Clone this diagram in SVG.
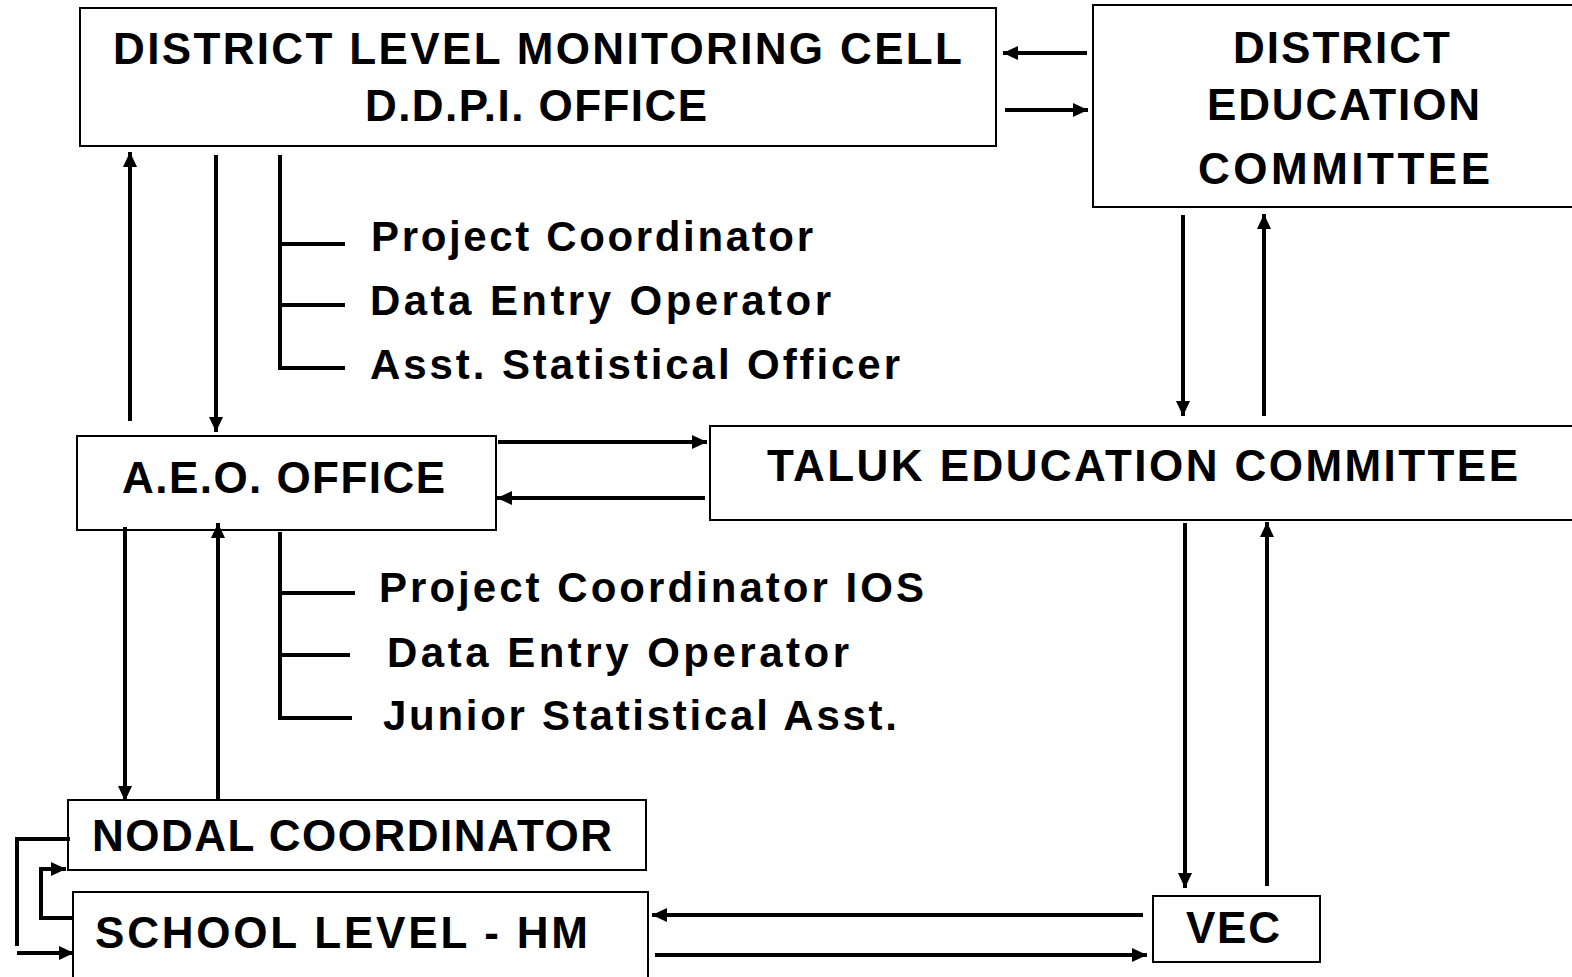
<svg xmlns="http://www.w3.org/2000/svg" width="1572" height="977" viewBox="0 0 1572 977">
  <defs>
    <marker id="ah" markerUnits="userSpaceOnUse" markerWidth="16" markerHeight="14" refX="15" refY="7" orient="auto">
      <path d="M0,0 L15,7 L0,14 Z" fill="#000"/>
    </marker>
    <style>
      .box { fill: #fff; stroke: #000; stroke-width: 2; }
      .title { font-family: "Liberation Sans", Arial, sans-serif; font-size: 44px; font-weight: bold; fill: #000; }
      .item { font-family: "Liberation Sans", Arial, sans-serif; font-size: 42px; font-weight: bold; fill: #000; }
      .arrow { fill: none; stroke: #000; stroke-width: 4; marker-end: url(#ah); }
      .line { fill: none; stroke: #000; stroke-width: 4; }
    </style>
  </defs>
  <rect width="1572" height="977" fill="#fff"/>

  <g id="district-monitoring-cell">
    <rect class="box" x="80" y="8" width="916" height="138"/>
    <text class="title" x="113" y="64" textLength="849" lengthAdjust="spacing">DISTRICT LEVEL MONITORING CELL</text>
    <text class="title" x="365" y="121" textLength="342" lengthAdjust="spacing">D.D.P.I. OFFICE</text>
  </g>

  <g id="district-education-committee">
    <rect class="box" x="1093" y="5" width="490" height="202"/>
    <text class="title" x="1233" y="63" textLength="217" lengthAdjust="spacing">DISTRICT</text>
    <text class="title" x="1207" y="120" textLength="273" lengthAdjust="spacing">EDUCATION</text>
    <text class="title" x="1198" y="184" textLength="292" lengthAdjust="spacing">COMMITTEE</text>
  </g>

  <g id="district-staff">
    <text class="item" x="371" y="251" textLength="442" lengthAdjust="spacing">Project Coordinator</text>
    <text class="item" x="370" y="315" textLength="461" lengthAdjust="spacing">Data Entry Operator</text>
    <text class="item" x="370" y="379" textLength="530" lengthAdjust="spacing">Asst. Statistical Officer</text>
  </g>

  <g id="aeo-office">
    <rect class="box" x="77" y="436" width="419" height="94"/>
    <text class="title" x="122" y="493" textLength="323" lengthAdjust="spacing">A.E.O. OFFICE</text>
  </g>

  <g id="taluk-education-committee">
    <rect class="box" x="710" y="426" width="873" height="94"/>
    <text class="title" x="767" y="481" textLength="751" lengthAdjust="spacing">TALUK EDUCATION COMMITTEE</text>
  </g>

  <g id="aeo-staff">
    <text class="item" x="379" y="602" textLength="545" lengthAdjust="spacing">Project Coordinator IOS</text>
    <text class="item" x="387" y="667" textLength="462" lengthAdjust="spacing">Data Entry Operator</text>
    <text class="item" x="383" y="730" textLength="514" lengthAdjust="spacing">Junior Statistical Asst.</text>
  </g>

  <g id="nodal-coordinator">
    <rect class="box" x="68" y="800" width="578" height="70"/>
    <text class="title" x="92" y="851" textLength="520" lengthAdjust="spacing">NODAL COORDINATOR</text>
  </g>

  <g id="school-level-hm">
    <rect class="box" x="73" y="892" width="575" height="90"/>
    <text class="title" x="95" y="948" textLength="493" lengthAdjust="spacing">SCHOOL LEVEL - HM</text>
  </g>

  <g id="vec">
    <rect class="box" x="1153" y="896" width="167" height="66"/>
    <text class="title" x="1186" y="943" textLength="94" lengthAdjust="spacing">VEC</text>
  </g>

  <g id="connectors">
    <!-- district cell <-> district education committee -->
    <line class="arrow" x1="1087" y1="53" x2="1003" y2="53"/>
    <line class="arrow" x1="1005" y1="110" x2="1088" y2="110"/>
    <!-- district cell <-> A.E.O. office -->
    <line class="arrow" x1="130" y1="421" x2="130" y2="152"/>
    <line class="arrow" x1="216" y1="155" x2="216" y2="432"/>
    <!-- district staff bracket -->
    <polyline class="line" points="280,155 280,368 345,368"/>
    <line class="line" x1="280" y1="244" x2="345" y2="244"/>
    <line class="line" x1="280" y1="305" x2="345" y2="305"/>
    <!-- district education committee <-> taluk committee -->
    <line class="arrow" x1="1183" y1="215" x2="1183" y2="416"/>
    <line class="arrow" x1="1264" y1="416" x2="1264" y2="214"/>
    <!-- A.E.O. office <-> taluk committee -->
    <line class="arrow" x1="498" y1="442" x2="707" y2="442"/>
    <line class="arrow" x1="705" y1="498" x2="497" y2="498"/>
    <!-- A.E.O. office <-> nodal coordinator -->
    <line class="arrow" x1="125" y1="527" x2="125" y2="801"/>
    <line class="arrow" x1="218" y1="800" x2="218" y2="523"/>
    <!-- A.E.O. staff bracket -->
    <polyline class="line" points="280,532 280,718 352,718"/>
    <line class="line" x1="280" y1="593" x2="355" y2="593"/>
    <line class="line" x1="280" y1="655" x2="350" y2="655"/>
    <!-- taluk committee <-> VEC -->
    <line class="arrow" x1="1185" y1="523" x2="1185" y2="888"/>
    <line class="arrow" x1="1267" y1="886" x2="1267" y2="522"/>
    <!-- school level <-> VEC -->
    <line class="arrow" x1="1143" y1="915" x2="652" y2="915"/>
    <line class="arrow" x1="655" y1="955" x2="1147" y2="955"/>
    <!-- nodal coordinator <-> school level loop -->
    <polyline class="line" points="70,839 17,839 17,946"/>
    <line class="arrow" x1="17" y1="953" x2="74" y2="953"/>
    <polyline class="arrow" points="73,918 41,918 41,869 66,869"/>
  </g>
</svg>
